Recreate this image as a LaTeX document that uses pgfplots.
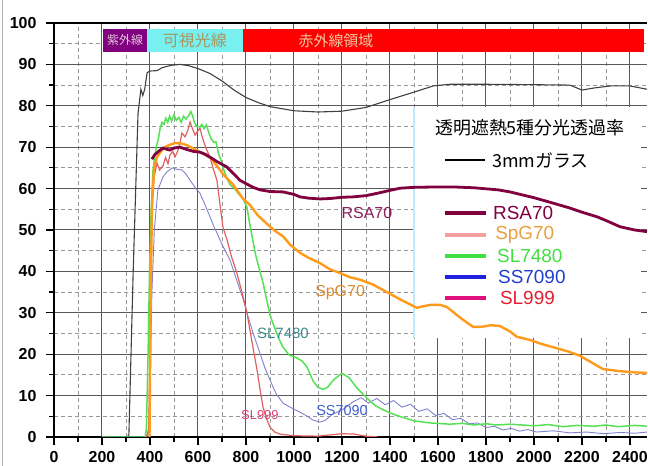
\documentclass[border=0pt]{standalone}
\usepackage{pgfplots}
\pgfplotsset{compat=1.18}
\usepackage{fontspec}
\setmainfont{Liberation Sans}
\newfontfamily\cjk{Noto Sans CJK JP}

\definecolor{glass}{HTML}{404040}
\definecolor{rsa}{HTML}{800040}
\definecolor{spg}{HTML}{FF9A1A}
\definecolor{slg}{HTML}{55E055}
\definecolor{ssb}{HTML}{8080D0}
\definecolor{slr}{HTML}{E06060}
\definecolor{uvbox}{HTML}{800080}
\definecolor{visbox}{HTML}{78F0F0}
\definecolor{uvtxt}{HTML}{E1C8D7}
\definecolor{vistxt}{HTML}{A89660}
\definecolor{irtxt}{HTML}{F0C8A0}
\definecolor{lbrsa}{HTML}{8C1A5A}
\definecolor{lbspg}{HTML}{D98A30}
\definecolor{lbsl}{HTML}{3A8A8A}
\definecolor{lbslr}{HTML}{E0407A}
\definecolor{lbss}{HTML}{4060D0}
\definecolor{lgspg}{HTML}{F4A0A0}
\definecolor{lgspgt}{HTML}{E8A040}
\definecolor{lgsl}{HTML}{40E040}
\definecolor{lgss}{HTML}{2020E0}
\definecolor{lgsst}{HTML}{2040D0}
\definecolor{lgslr}{HTML}{E0107A}
\definecolor{lgslrt}{HTML}{E02030}

% spectral transmittance (%)
\pgfplotstableread{
x y
200 0
305 0
312 0.5
330 40
350 78
362 84
370 82.5
378 84
388 88
400 88.4
430 88.5
450 89.2
490 89.8
525 90
560 89.7
600 89
650 87.8
700 86
750 83.8
800 82
850 80.8
900 79.8
1000 78.8
1100 78.5
1200 78.7
1300 79.6
1400 81.5
1500 83.3
1580 84.8
1650 85.2
1800 85.2
2000 85.1
2150 85
2200 83.8
2250 84.3
2320 84.8
2400 84.8
2471 84
}\glasstab

\pgfplotstableread{
x y
408 67.1
420 68.2
440 69.2
455 69.8
470 69.5
483 69.3
500 69.8
525 70
550 69.5
580 69
608 68.8
630 68.3
650 67.6
680 66.5
721 65.2
750 63.5
775 62
800 61.2
830 60.3
858 59.7
900 59.3
954 59.2
1000 58.6
1025 58
1060 57.7
1108 57.5
1150 57.6
1200 57.9
1246 58
1300 58.3
1350 58.9
1387 59.4
1442 60.1
1500 60.3
1596 60.4
1663 60.4
1750 60.2
1850 59.7
1900 59.2
1950 58.5
2000 57.8
2079 56.5
2150 55.3
2200 54.3
2262 53.2
2300 52.3
2358 50.8
2420 50
2471 49.6
}\rsatab

\pgfplotstableread{
x y
398 0
402 30
408 55
417 65
429 67.6
450 69.3
470 70.3
504 71
530 70.9
554 70.5
580 69.7
608 68.8
650 67.5
679 65.5
704 63.5
746 61
788 57.5
817 56
850 53.5
887 51.5
920 49.8
954 48.5
983 46.5
1025 44.5
1060 43.3
1108 42
1150 40.5
1192 39.6
1233 38.6
1275 38
1330 36.8
1387 35
1450 33
1512 31.2
1540 31.6
1567 31.9
1610 31.9
1637 31.4
1700 28.5
1746 26.6
1780 26.6
1820 27
1858 26.8
1900 25.5
1929 24.2
1980 23.5
2030 22.5
2079 21.7
2140 20.7
2192 19.6
2240 18
2288 16.4
2330 16.1
2358 15.9
2420 15.6
2471 15.5
}\spgtab

\pgfplotstableread{
x y
200 0
380 0
385 2
392 20
398 40
405 55
412 64
420 68
428 70.5
435 72
442 74.5
450 76
458 75.5
466 77
474 76
482 77.5
490 76.3
500 77.8
510 76.5
520 77.2
530 76
540 77.5
550 76.8
560 77.5
570 78.6
578 77.5
585 76
595 75
608 74.9
616 75.5
625 74.5
635 75.4
645 73.5
655 72
665 71.2
675 71.3
685 68.5
695 67
705 65
720 62.5
735 60.8
750 60.2
765 59
788 57.5
804 55.5
817 51
840 44
871 37.2
900 29.5
912 27.5
935 24
954 21.7
980 19.8
1012 19.1
1035 18.3
1054 16.9
1080 13.5
1100 12
1120 11.5
1140 12
1165 13.8
1200 15.4
1230 14.3
1260 12
1304 9.4
1340 7.5
1400 5.8
1450 4.8
1500 3.9
1567 3.4
1650 3.1
1700 3.3
1750 2.9
1800 3.2
1846 2.9
1900 3.1
2000 2.7
2060 3
2121 2.5
2180 2.8
2250 2.6
2300 2.9
2350 2.5
2420 2.8
2471 2.6
}\sltab

\pgfplotstableread{
x y
200 0
385 0
392 0.5
400 10
408 35
418 50
433 59.7
454 62.8
470 64
492 65
510 64.7
533 64.5
550 63.5
567 62
585 60.5
608 58.9
630 56
650 53.2
665 51
679 49.3
700 46.5
733 42.8
755 39
775 35.5
790 33
804 30
830 25
858 20.3
880 16.5
900 13.8
925 10.5
954 8.2
990 7
1025 6
1050 5.2
1079 4.1
1108 3.6
1130 4
1160 5.5
1200 6.5
1246 8.5
1280 9.5
1310 8.2
1345 9.3
1380 7.8
1415 8.8
1450 7.2
1485 7.9
1520 6.2
1555 6.8
1590 5.2
1625 5.7
1660 4.2
1695 4.5
1730 3.2
1765 3.4
1800 2.3
1835 2.6
1870 1.7
1905 2.1
1940 1.4
1975 1.8
2010 1.2
2080 1.5
2150 1.0
2220 1.2
2290 0.8
2360 1.1
2420 0.9
2471 1.2
}\sstab

\pgfplotstableread{
x y
385 0
395 2
402 30
408 57.2
418 63
429 66.2
440 64.5
454 65.5
465 67.5
475 66
483 68.1
495 69
504 67.6
515 69
525 71
533 73.4
546 72.5
557 74
567 76.1
577 74.5
588 72.9
598 73.8
608 74.6
620 72
635 69.5
650 67.6
665 64.5
679 62
692 56
704 50.7
721 47.6
740 43.5
762 39.6
783 35
804 30
825 23
846 16.2
860 11
871 7.2
885 4.5
900 2.4
920 1.2
942 0.7
1000 0.3
1100 0.2
1150 0.5
1200 0.8
1250 0.7
1300 0.2
1350 0
}\slrtab

\begin{document}
\begin{tikzpicture}
\useasboundingbox (0,0) rectangle (648bp,466bp);
\draw[gray!60, line width=1bp] (2bp,0) -- (2bp,466bp);
\begin{axis}[
  at={(54bp,29bp)}, anchor=south west,
  scale only axis, width=593bp, height=414bp,
  xmin=0, xmax=2471, ymin=0, ymax=100,
  axis x line*=box, axis y line*=left,
  axis line style={black, line width=1.6bp},
  xtick={0,200,...,2400}, ytick={0,10,...,100},
  minor x tick num=1, minor y tick num=1,
  xtick pos=bottom, ytick pos=left,
  tick align=outside,
  major tick length=8bp, minor tick length=5bp,
  tick style={black, line width=1.2bp},
  grid=both,
  major grid style={solid, black!65, line width=1bp},
  minor grid style={dash pattern=on 4bp off 3bp, black!40, line width=0.8bp},
  /pgf/number format/assume math mode=true,
  /pgf/number format/1000 sep={},
  ticklabel style={font=\fontsize{16}{16}\selectfont\bfseries},
  xticklabel style={anchor=center, yshift=-12bp},
  yticklabel style={anchor=east, xshift=-6bp},
  clip=true,
]
% region band
\fill[uvbox] (axis cs:204,93) rectangle (axis cs:387,98.5);
\fill[visbox] (axis cs:387,93) rectangle (axis cs:787,98.5);
\fill[red] (axis cs:787,93) rectangle (axis cs:2460,98.5);
\node[text=uvtxt, font=\cjk\fontsize{12}{12}\selectfont] at (axis cs:296,95.8) {紫外線};
\node[text=vistxt, font=\cjk\fontsize{16}{16}\selectfont] at (axis cs:587,95.8) {可視光線};
\node[text=irtxt, font=\cjk\fontsize{15}{15}\selectfont] at (axis cs:1175,95.8) {赤外線領域};

% legend panel
\fill[white] (axis cs:1500,24) rectangle (axis cs:2445,79.8);
\draw[cyan!25, line width=1.2bp] (axis cs:1500,24) -- (axis cs:1500,79.8);

\addplot[glass, line width=1.1bp] table {\glasstab};
\addplot[ssb, line width=0.9bp] table {\sstab};
\addplot[slr, line width=1.2bp] table {\slrtab};
\addplot[slg, line width=1.5bp] table {\sltab};
\addplot[spg, line width=2.4bp] table {\spgtab};
\addplot[rsa, line width=2.8bp] table {\rsatab};

% curve labels
\node[text=lbrsa, font=\fontsize{16}{16}\selectfont] at (axis cs:1304,54.1) {RSA70};
\node[text=lbspg, font=\fontsize{16}{16}\selectfont] at (axis cs:1192,35) {SpG70};
\node[text=lbsl, font=\fontsize{15}{15}\selectfont] at (axis cs:954,25.1) {SL7480};
\node[text=lbslr, font=\fontsize{13}{13}\selectfont] at (axis cs:858,5.3) {SL999};
\node[text=lbss, font=\fontsize{14.5}{14.5}\selectfont] at (axis cs:1200,6.5) {SS7090};

% legend
\node[font=\cjk\fontsize{18}{18}\selectfont] at (axis cs:1983,74.6) {透明遮熱5種分光透過率};
\draw[black, line width=1.2bp] (axis cs:1629,66.9) -- (axis cs:1796,66.9);
\node[anchor=west, inner sep=0pt, font=\cjk\fontsize{18}{18}\selectfont] at (axis cs:1825,66.9) {3mmガラス};
\draw[rsa, line width=4bp] (axis cs:1629,54.1) -- (axis cs:1800,54.1);
\node[anchor=west, inner sep=0pt, text=rsa, font=\fontsize{19}{19}\selectfont] at (axis cs:1829,54.1) {RSA70};
\draw[lgspg, line width=4bp] (axis cs:1629,48.8) -- (axis cs:1800,48.8);
\node[anchor=west, inner sep=0pt, text=lgspgt, font=\fontsize{19}{19}\selectfont] at (axis cs:1838,48.8) {SpG70};
\draw[lgsl, line width=4bp] (axis cs:1629,43.8) -- (axis cs:1800,43.8);
\node[anchor=west, inner sep=0pt, text=lgsl, font=\fontsize{19}{19}\selectfont] at (axis cs:1846,43.8) {SL7480};
\draw[lgss, line width=4bp] (axis cs:1629,38.6) -- (axis cs:1800,38.6);
\node[anchor=west, inner sep=0pt, text=lgsst, font=\fontsize{19}{19}\selectfont] at (axis cs:1850,38.6) {SS7090};
\draw[lgslr, line width=4bp] (axis cs:1629,33.6) -- (axis cs:1800,33.6);
\node[anchor=west, inner sep=0pt, text=lgslrt, font=\fontsize{19}{19}\selectfont] at (axis cs:1858,33.6) {SL999};
\end{axis}
\end{tikzpicture}
\end{document}
